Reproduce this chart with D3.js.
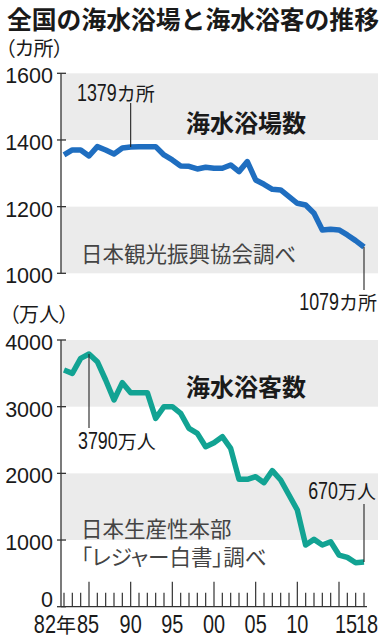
<!DOCTYPE html>
<html>
<head>
<meta charset="utf-8">
<script src="https://d3js.org/d3.v7.min.js"></script>
<style>
  body { margin: 0; background: #fff; }
  svg text { font-family: "Noto Sans CJK JP", sans-serif; fill: #1a1a1a; }
  .num { font-family: "Liberation Sans", Arial, sans-serif; }
  .palt { font-feature-settings: "palt"; }
</style>
</head>
<body>
<div id="chart"></div>
<script>
// years 1982 - 2018
const years = d3.range(1982, 2019);

// number of beaches (カ所)
const beaches = [1355, 1370, 1370, 1352, 1380, 1370, 1358, 1376, 1379, 1380,
                 1380, 1380, 1355, 1340, 1322, 1321, 1313, 1318, 1315, 1315,
                 1325, 1305, 1335, 1280, 1267, 1252, 1250, 1230, 1210, 1205,
                 1180, 1130, 1132, 1130, 1115, 1098, 1079];

// number of visitors (万人)
const visitors = [3550, 3500, 3725, 3790, 3675, 3400, 3100, 3360, 3210, 3210,
                  3210, 2825, 3000, 3000, 2900, 2675, 2600, 2400, 2460, 2550,
                  2375, 1910, 1910, 1950, 1860, 2040, 1900, 1675, 1450, 925,
                  1010, 925, 975, 775, 740, 660, 670];

const beachTicks = [1000, 1200, 1400, 1600];
const visitorTicks = [0, 1000, 2000, 3000, 4000];
const majorYears = [1985, 1990, 1995, 2000, 2005, 2010, 2015];
const xLabels = ["82", "85", "90", "95", "00", "05", "10", "15", "18"];
const xLabelYears = [1982, 1985, 1990, 1995, 2000, 2005, 2010, 2015, 2018];

const width = 387, height = 640;
const svg = d3.select("#chart").append("svg")
    .attr("width", width)
    .attr("height", height);

// shared x scale
const x = d3.scaleLinear().domain([1982, 2018]).range([64, 364]);
const axisX = 61, bandRight = 378;

// y scales for each panel
const yTop = d3.scaleLinear().domain([1000, 1600]).range([273.3, 73.3]);
const yBot = d3.scaleLinear().domain([0, 4000]).range([606.7, 340]);

// condensed digits followed by a CJK unit
function mixed(px, py, num, unit, numSize, unitSize, anchor, sx) {
    const g = svg.append("g");
    const tn = g.append("text").attr("class", "num")
        .style("font-size", numSize + "px").text(num);
    const wn = tn.node().getComputedTextLength() * sx;
    let tu = null, wu = 0;
    if (unit) {
        tu = g.append("text").style("font-size", unitSize + "px").text(unit);
        wu = tu.node().getComputedTextLength();
    }
    const total = wn + wu;
    const x0 = anchor === "start" ? px : anchor === "end" ? px - total : px - total / 2;
    tn.attr("transform", `translate(${x0},${py}) scale(${sx},1)`);
    if (tu) tu.attr("x", x0 + wn).attr("y", py);
}

// gray bands
function bands(scale, pairs) {
    svg.append("g").selectAll("rect")
        .data(pairs)
        .enter()
        .append("rect")
        .attr("x", axisX)
        .attr("width", bandRight - axisX)
        .attr("y", d => scale(d[1]))
        .attr("height", d => scale(d[0]) - scale(d[1]))
        .attr("fill", "#ebebeb");
}
bands(yTop, [[1000, 1200], [1400, 1600]]);
bands(yBot, [[1000, 2000], [3000, 4000]]);

// y axes
function yAxis(scale, ticks, zeroLift) {
    const g = svg.append("g");
    g.append("line")
        .attr("x1", axisX).attr("x2", axisX)
        .attr("y1", scale(ticks[0])).attr("y2", scale(ticks[ticks.length - 1]))
        .attr("stroke", "#333").attr("stroke-width", 1.3);
    g.selectAll(".tk").data(ticks).enter().append("line")
        .attr("x1", axisX - 4).attr("x2", axisX + 5)
        .attr("y1", d => scale(d)).attr("y2", d => scale(d))
        .attr("stroke", "#333").attr("stroke-width", 1.3);
    g.selectAll("text").data(ticks).enter().append("text")
        .attr("class", "num")
        .attr("x", 53)
        .attr("y", d => scale(d) + (d === 0 && zeroLift ? -7 : 3))
        .attr("dominant-baseline", "central")
        .attr("text-anchor", "end")
        .style("font-size", "21.5px")
        .text(d => d);
}
yAxis(yTop, beachTicks, false);
yAxis(yBot, visitorTicks, true);

// x axis at the bottom
const xg = svg.append("g");
const baseY = yBot(0);
xg.append("line")
    .attr("x1", axisX).attr("x2", 367)
    .attr("y1", baseY).attr("y2", baseY)
    .attr("stroke", "#333").attr("stroke-width", 1.3);
xg.selectAll(".yt").data(years).enter().append("line")
    .attr("x1", d => x(d)).attr("x2", d => x(d))
    .attr("y1", d => majorYears.includes(d) ? baseY - 25 : baseY - 14)
    .attr("y2", baseY)
    .attr("stroke", "#333").attr("stroke-width", 1.2);

// x labels (small nudges so "15" and "18" sit together like the original)
const nudge = { 1985: -1, 2015: 7, 2018: 3 };
xLabels.forEach((lab, i) => {
    const yr = xLabelYears[i];
    if (yr === 1982) mixed(76, 633, lab, "年", 25.5, 20, "end", 0.78);
    else mixed(x(yr) + (nudge[yr] || 0), 633, lab, null, 25.5, 20, "middle", 0.78);
});

// lines
const line = scale => d3.line()
    .x((d, i) => x(years[i]))
    .y(d => scale(d))
    .curve(d3.curveLinear);

svg.append("path")
    .datum(beaches)
    .attr("d", line(yTop))
    .attr("fill", "none")
    .attr("stroke", "#1f6ec0")
    .attr("stroke-width", 5.5)
    .attr("stroke-linejoin", "round");

svg.append("path")
    .datum(visitors)
    .attr("d", line(yBot))
    .attr("fill", "none")
    .attr("stroke", "#12a393")
    .attr("stroke-width", 5.5)
    .attr("stroke-linejoin", "round");

// title and unit labels
svg.append("text")
    .attr("x", 7).attr("y", 29)
    .style("font-size", "24.8px").style("font-weight", "bold")
    .text("全国の海水浴場と海水浴客の推移");

svg.append("text").attr("class", "palt").attr("x", 5).attr("y", 56)
    .style("font-size", "20px").text("（カ所）");
svg.append("text").attr("class", "palt").attr("x", 9).attr("y", 322)
    .style("font-size", "20px").text("（万人）");

// panel titles
svg.append("text").attr("x", 246).attr("y", 132)
    .attr("text-anchor", "middle")
    .style("font-size", "24px").style("font-weight", "bold")
    .text("海水浴場数");
svg.append("text").attr("x", 246).attr("y", 396)
    .attr("text-anchor", "middle")
    .style("font-size", "24px").style("font-weight", "bold")
    .text("海水浴客数");

// sources
svg.append("text").attr("x", 81).attr("y", 262)
    .style("font-size", "21.5px").style("fill", "#444")
    .text("日本観光振興協会調べ");
svg.append("text").attr("x", 81).attr("y", 537)
    .style("font-size", "21.5px").style("fill", "#444")
    .text("日本生産性本部");
svg.append("text").attr("class", "palt").attr("x", 81).attr("y", 565)
    .style("font-size", "21.5px").style("fill", "#444")
    .text("「レジャー白書」調べ");

// callouts: value label with a leader line
function callout(year, num, unit, tx, ty, anchor, ly1, ly2) {
    svg.append("line")
        .attr("x1", x(year)).attr("x2", x(year))
        .attr("y1", ly1).attr("y2", ly2)
        .attr("stroke", "#222").attr("stroke-width", 1.1);
    mixed(tx, ty, num, unit, 23.5, 19, anchor, 0.76);
}
callout(1990, "1379", "カ所", 77, 101, "start", 103, yTop(1379));
callout(2018, "1079", "カ所", 377, 310, "end", yTop(1079), 290);
callout(1985, "3790", "万人", 78, 449, "start", yBot(3790), 428);
callout(2018, "670", "万人", 376, 499, "end", 504, yBot(670));
</script>
</body>
</html>
